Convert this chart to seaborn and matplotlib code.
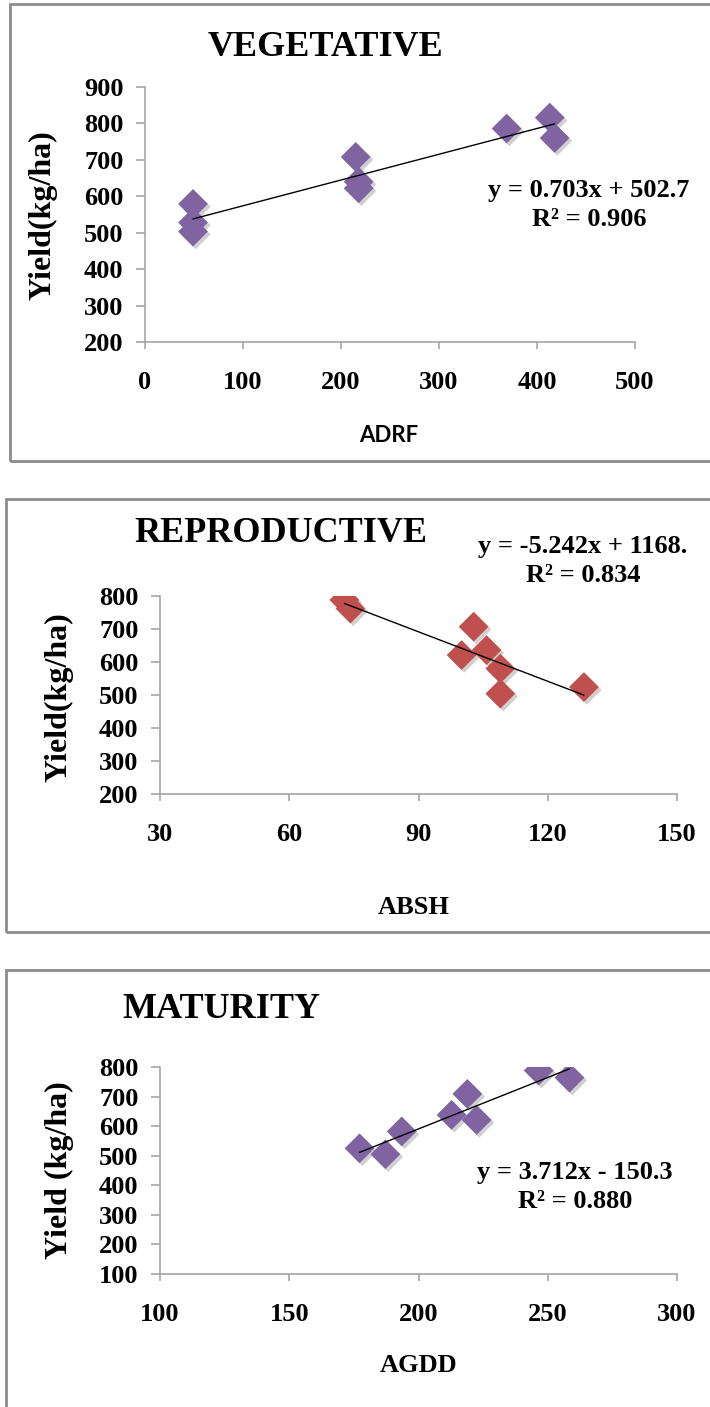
import matplotlib
matplotlib.use("Agg")
import matplotlib.pyplot as plt
import matplotlib.patheffects as pe
from matplotlib.patches import Rectangle
import pandas as pd
import seaborn as sns

# values
adrf = [49, 49, 49, 215, 218, 218, 369, 413, 418]
veg_yield = [579, 528, 503, 708, 640, 622, 786, 816, 760]

absh = [72.8, 74.2, 102.8, 100.0, 105.8, 109.0, 109.0, 128.4]
rep_yield = [788, 762, 707, 621, 636, 580, 504, 524]

agdd = [177.2, 187.2, 193.5, 212.8, 218.9, 222.5, 246.5, 258.4]
mat_yield = [525, 505, 582, 638, 709, 621, 788, 764]

titles = ['VEGETATIVE', 'REPRODUCTIVE', 'MATURITY']
xlabels = ['ADRF', 'ABSH', 'AGDD']
ylabels = ['Yield(kg/ha)', 'Yield(kg/ha)', 'Yield (kg/ha)']
equations = ['y = 0.703x + 502.7', 'y = -5.242x + 1168.', 'y = 3.712x - 150.3']
r2_labels = ['R² = 0.906', 'R² = 0.834', 'R² = 0.880']
x_ticks = [[0, 100, 200, 300, 400, 500], [30, 60, 90, 120, 150], [100, 150, 200, 250, 300]]
y_ticks = [list(range(200, 901, 100)), list(range(200, 801, 100)), list(range(100, 801, 100))]

W, H = 710, 1407
sns.set_theme(style="white")
plt.rcParams['font.family'] = ['Liberation Serif', 'DejaVu Serif']
plt.rcParams['text.color'] = 'black'
plt.rcParams['xtick.labelcolor'] = 'black'
plt.rcParams['ytick.labelcolor'] = 'black'

fig = plt.figure(figsize=(W / 100, H / 100), dpi=100)

# pixel layout of each panel: axes box, frame box, text anchors
panels = [
    dict(x=adrf, y=veg_yield, color='#8064A2', ax=(145, 87, 635, 342),
         frame=(10, 4, 461), title=(326, 47), eq=(589, 190, 220),
         ylab=(43, 215), xlab=(389, 435, 'sans')),
    dict(x=absh, y=rep_yield, color='#C0504D', ax=(160, 596, 677, 794),
         frame=(6, 499, 932), title=(281, 533), eq=(583, 547, 575),
         ylab=(59, 697), xlab=(414, 907, 'serif')),
    dict(x=agdd, y=mat_yield, color='#8064A2', ax=(160, 1067, 677, 1274),
         frame=(6, 970, 1420), title=(221, 1010), eq=(575, 1172, 1202),
         ylab=(59, 1170), xlab=(419, 1365, 'serif')),
]

spine_col = '#a6a6a6'

for i, p in enumerate(panels):
    # grey chart-area border, open on the right like the cropped original
    fx, ftop, fbot = p['frame']
    fig.add_artist(Rectangle((fx / W, 1 - fbot / H), (W + 20 - fx) / W, (fbot - ftop) / H,
                             transform=fig.transFigure, fill=False,
                             edgecolor='#8c8c8c', linewidth=2))

    l, t, r, b = p['ax']
    ax = fig.add_axes([l / W, 1 - b / H, (r - l) / W, (b - t) / H])
    df = pd.DataFrame({'x': p['x'], 'y': p['y']})

    sns.scatterplot(data=df, x='x', y='y', ax=ax, marker='D', s=230,
                    color=p['color'], edgecolor='none', zorder=3,
                    path_effects=[pe.SimplePatchShadow(offset=(2, -2), alpha=0.25,
                                                       shadow_rgbFace='#444444'),
                                  pe.Normal()])
    sns.regplot(data=df, x='x', y='y', ax=ax, scatter=False, ci=None,
                truncate=True, line_kws=dict(color='black', linewidth=1, zorder=4))

    xt, yt = x_ticks[i], y_ticks[i]
    ax.set_xlim(xt[0], xt[-1])
    ax.set_ylim(yt[0], yt[-1])
    ax.set_xticks(xt)
    ax.set_yticks(yt)
    ax.set_xlabel('')
    ax.set_ylabel('')
    ax.set_facecolor('none')
    for s in ['top', 'right']:
        ax.spines[s].set_visible(False)
    for s in ['left', 'bottom']:
        ax.spines[s].set_color(spine_col)
        ax.spines[s].set_linewidth(1.2)
    ax.tick_params(axis='x', direction='out', length=5, width=1.2, color=spine_col,
                   pad=16, labelsize=19, bottom=True)
    ax.tick_params(axis='y', direction='out', length=6.5, width=1.2, color=spine_col,
                   pad=9, labelsize=19, left=True)
    for lab in ax.get_xticklabels() + ax.get_yticklabels():
        lab.set_fontweight('bold')

    tx, ty = p['title']
    fig.text(tx / W, 1 - ty / H, titles[i], ha='center', va='center',
             fontsize=26, fontweight='bold')

    ex, ey1, ey2 = p['eq']
    fig.text(ex / W, 1 - ey1 / H, equations[i], ha='center', va='center',
             fontsize=19, fontweight='bold')
    fig.text(ex / W, 1 - ey2 / H, r2_labels[i], ha='center', va='center',
             fontsize=19, fontweight='bold')

    yx, yy = p['ylab']
    fig.text(yx / W, 1 - yy / H, ylabels[i], ha='center', va='center',
             rotation=90, fontsize=23, fontweight='bold')

    lx, ly, lf = p['xlab']
    if lf == 'sans':
        fig.text(lx / W, 1 - ly / H, xlabels[i], ha='center', va='center',
                 fontsize=16, fontweight='bold', family=['Lato', 'DejaVu Sans'])
    else:
        fig.text(lx / W, 1 - ly / H, xlabels[i], ha='center', va='center',
                 fontsize=19, fontweight='bold')

fig.savefig('out.png', dpi=100, facecolor='white')
